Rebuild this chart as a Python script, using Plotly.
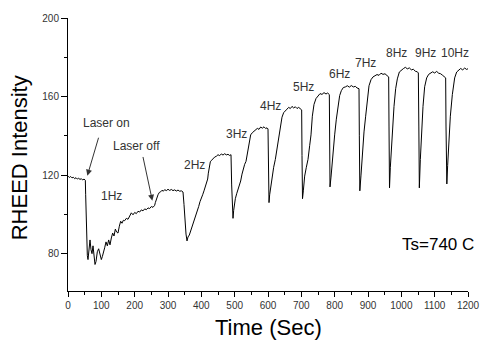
import plotly.graph_objects as go

# ---- data ----
time_s = [0, 4, 8, 12, 16, 20, 24, 28, 32, 36, 40, 44, 48, 52,
          53, 54.5, 56, 58, 60, 63, 66, 69, 72, 75, 78, 81, 84, 88, 92, 96, 100, 103, 106, 110, 114, 118,
          122, 126, 130, 134, 138, 142, 146, 150, 154, 158, 162, 166, 170, 175, 180, 185, 190, 195, 200,
          205, 210, 215, 220, 225, 230, 235, 240, 245, 250, 255, 260,
          262, 266, 270, 274, 278, 282, 286, 290, 295, 300, 305, 310, 315, 320, 325, 330, 335, 340, 345,
          348, 351, 354, 357, 360, 364, 368, 372, 376, 380, 384, 388, 392, 396, 400, 404, 408, 412, 416,
          419, 421, 424, 427, 431, 435, 440, 445, 450, 455, 460, 465, 470, 475, 480, 485, 489,
          491, 493, 495, 497, 499, 502, 506, 510, 514, 518, 522, 526, 530, 534, 538, 541, 544, 548, 553,
          558, 563, 568, 573, 578, 583, 588, 593, 597, 600,
          601.5, 603, 605, 608, 612, 617, 622, 627, 632, 637, 642, 647, 652, 657, 662, 667, 672, 677, 682,
          687, 692, 697, 701,
          702, 703.5, 706, 710, 715, 720, 725, 729, 733, 738, 744, 750, 756, 762, 768, 774, 779, 784,
          785, 786, 789, 792, 796, 800, 805, 810, 815, 820, 826, 832, 838, 844, 850, 856, 862, 867, 873,
          874, 875.5, 879, 884, 888, 893, 898, 903, 909, 915, 921, 927, 933, 939, 945, 951, 957, 962,
          963, 964.5, 967, 970, 974, 978, 983, 988, 994, 1000, 1006, 1012, 1018, 1024, 1030, 1036, 1042,
          1048, 1051,
          1052.5, 1054, 1057, 1061, 1065, 1070, 1076, 1082, 1088, 1094, 1100, 1106, 1112, 1118, 1124,
          1130, 1133,
          1134, 1136.5, 1139, 1142, 1147, 1153, 1160, 1166, 1172, 1178, 1184, 1190, 1196, 1200]

intensity = [119.5, 118.8, 119.3, 118.6, 118.9, 118.2, 118.7, 118.0, 118.4, 117.8, 118.2, 117.5, 118.0, 117.4,
             110, 95, 82, 79, 77, 83, 87, 82, 80, 84, 78, 74.5, 76, 81, 82.5, 80, 77, 78.5, 80, 83, 86, 84,
             87, 84.5, 88, 90.5, 89, 92.5, 91, 90.5, 94, 96.5, 95.5, 97, 96.8, 98, 97.5, 99.5, 100.8, 99.8, 101,
             100.4, 101.6, 101.2, 102.3, 101.8, 102.8, 102.4, 103.3, 103, 104, 103.6, 104.6,
             106, 108.5, 110, 111.2, 111.5, 112.3, 111.8, 112.6, 112.1, 112.8, 112.2, 112.7, 112.1, 112.5,
             111.9, 112.4, 111.8, 112.0, 111.4,
             105, 96, 90, 86.5, 88.5, 89.5, 91.5, 93, 95, 97.5, 100, 102, 104, 106.5, 108, 110, 112, 114, 116.5,
             118, 121, 124.5, 126.8, 127.6, 128.4, 129.2, 129.6, 130.4, 129.9, 130.8, 130.2, 130.9, 130.3,
             130.6, 130.0, 130.4,
             115, 103, 98, 102, 106, 108, 110.5, 112.5, 114.5, 117, 120.5, 123.5, 125.5, 127, 131, 135.5,
             138.5, 140.5, 141.6, 142.4, 143, 143.8, 143.3, 144.5, 143.9, 144.6, 143.7, 144.1, 143.5,
             125, 106, 110, 114, 119.5, 124, 128, 133, 139.5, 145, 149.5, 151.8, 153, 153.6, 154.5, 153.9,
             155, 154.2, 154.8, 153.9, 154.5, 153.6, 153.2,
             130, 108, 112, 119.5, 124, 128, 135, 140.5, 150, 156, 159, 160.4, 161.5, 161.1, 162.0, 161.3,
             161.8, 161.0,
             140, 114, 119, 126, 134, 140.5, 148.5, 155, 160.5, 163, 164.6, 164.9, 165.5, 164.8, 165.6,
             164.9, 165.2, 164.4, 164,
             140, 112, 120, 133, 142, 150, 159.5, 165.5, 168.6, 170, 170.6, 171.2, 170.8, 171.9, 171.3,
             171.6, 170.7, 170.0,
             145, 113.5, 124, 133, 144.5, 155, 164, 169, 172.5, 173.6, 174.2, 174.9, 174.1, 174.6, 173.6,
             173.9, 172.9, 172.6, 172,
             145, 113.5, 128, 145, 155, 165, 169.5, 171.3, 171.9, 172.6, 172.0, 172.8, 171.9, 171.6, 170.8,
             169.8, 169.5,
             145, 115.5, 125, 136, 150, 161, 169.5, 172.5, 173.5, 174.3, 173.6, 174.5, 173.8, 174.2]

freq_labels = ["1Hz", "2Hz", "3Hz", "4Hz", "5Hz", "6Hz", "7Hz", "8Hz", "9Hz", "10Hz"]
freq_label_t = [131, 379, 504, 608, 706, 813, 893, 986, 1071, 1161]
freq_label_i = [109.5, 125, 141, 155, 165, 171.5, 177, 182, 182, 182]

x_ticks = [0, 100, 200, 300, 400, 500, 600, 700, 800, 900, 1000, 1100, 1200]
y_ticks = [80, 120, 160, 200]

FONT = "Liberation Sans, Arial, sans-serif"
TXT = "#333333"

fig = go.Figure()
fig.add_trace(go.Scatter(x=time_s, y=intensity, mode="lines",
                         line=dict(color="black", width=1), showlegend=False, hoverinfo="skip"))

ann = []
for lab, t, v in zip(freq_labels, freq_label_t, freq_label_i):
    ann.append(dict(x=t, y=v, xref="x", yref="y", text=lab, showarrow=False,
                    font=dict(family=FONT, size=12, color=TXT)))

# Laser on / off labels and arrows
ann.append(dict(x=115, y=146.6, xref="x", yref="y", text="Laser on", showarrow=False,
                font=dict(family=FONT, size=12, color=TXT)))
ann.append(dict(x=204, y=134.6, xref="x", yref="y", text="Laser off", showarrow=False,
                font=dict(family=FONT, size=12, color=TXT)))
ann.append(dict(x=58, y=119.7, ax=93, ay=139.8, xref="x", yref="y", axref="x", ayref="y",
                text="", showarrow=True, arrowhead=2, arrowsize=1.2, arrowwidth=1, arrowcolor="#333333"))
ann.append(dict(x=253, y=107, ax=224, ay=130, xref="x", yref="y", axref="x", ayref="y",
                text="", showarrow=True, arrowhead=2, arrowsize=1.2, arrowwidth=1, arrowcolor="#333333"))

ann.append(dict(x=1110, y=84.5, xref="x", yref="y", text="Ts=740 C", showarrow=False,
                font=dict(family=FONT, size=17, color="black")))

# axis titles
ann.append(dict(x=0, y=0.486, xref="paper", yref="paper", xshift=-49, text="RHEED Intensity",
                textangle=-90, showarrow=False, xanchor="center", yanchor="middle",
                font=dict(family=FONT, size=22, color="black")))
ann.append(dict(x=0.5, y=-0.133, xref="paper", yref="paper", text="Time (Sec)",
                showarrow=False, xanchor="center", yanchor="middle",
                font=dict(family=FONT, size=22, color="black")))

fig.update_layout(
    width=492, height=345,
    margin=dict(l=68, r=12, t=13, b=54),
    paper_bgcolor="white", plot_bgcolor="white",
    annotations=ann,
    xaxis=dict(range=[0, 1200], tickvals=x_ticks, ticks="outside", ticklen=5, tickwidth=1,
               tickcolor="black", showline=True, linecolor="black", linewidth=1,
               showgrid=False, zeroline=False,
               minor=dict(dtick=50, ticks="outside", ticklen=3, tickcolor="black", showgrid=False),
               tickfont=dict(family=FONT, size=10, color=TXT)),
    yaxis=dict(range=[61, 200], tickvals=y_ticks, ticks="outside", ticklen=6, tickwidth=1,
               tickcolor="black", showline=True, linecolor="black", linewidth=1,
               showgrid=False, zeroline=False,
               minor=dict(tickvals=[100, 140, 180], ticks="outside", ticklen=3, tickcolor="black",
                          showgrid=False),
               tickfont=dict(family=FONT, size=10, color=TXT)),
)

fig.write_html("out.html")
